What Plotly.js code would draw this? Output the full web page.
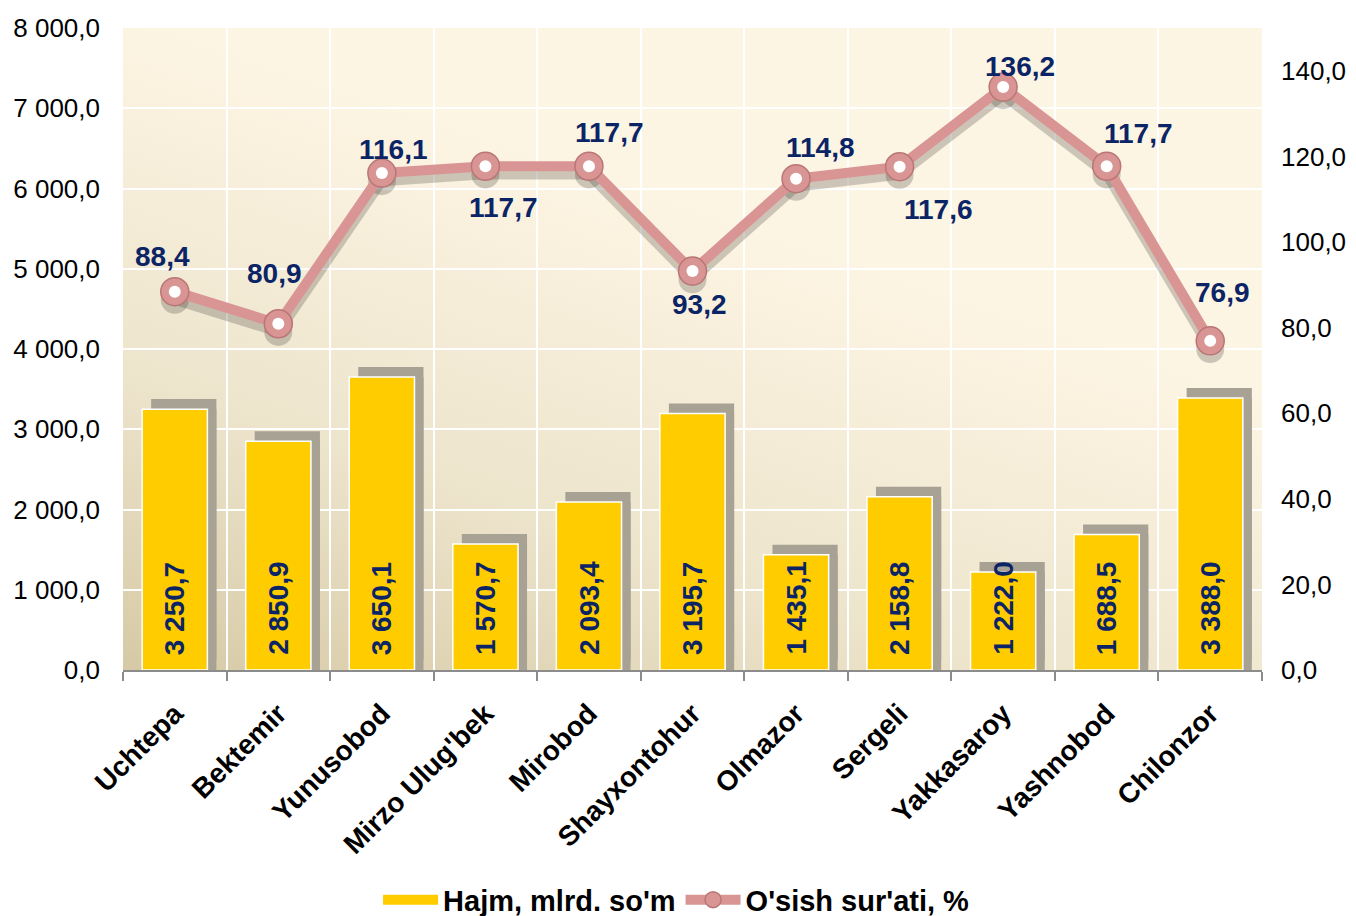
<!DOCTYPE html>
<html>
<head>
<meta charset="utf-8">
<script src="https://cdn.plot.ly/plotly-3.0.1.min.js"></script>
<style>html,body{margin:0;padding:0;background:#fff;}#chart{width:1356px;height:916px;}</style>
</head>
<body>
<div id="chart"></div>
<script>
// ---- data ----
var districts = ["Uchtepa", "Bektemir", "Yunusobod", "Mirzo Ulug'bek", "Mirobod", "Shayxontohur", "Olmazor", "Sergeli", "Yakkasaroy", "Yashnobod", "Chilonzor"];
var hajm = [3250.7, 2850.9, 3650.1, 1570.7, 2093.4, 3195.7, 1435.1, 2158.8, 1222.0, 1688.5, 3388.0];
var osish = [88.4, 80.9, 116.1, 117.7, 117.7, 93.2, 114.8, 117.6, 136.2, 117.7, 76.9];
var seriesNames = ["Hajm, mlrd. so'm", "O'sish sur'ati, %"];

// ---- styling (label offsets in px) ----
var lineLabelOffset = [[-12,-35],[-4,-50],[12,-24],[18,41],[21,-34],[7,33],[24,-31],[39,43],[17,-21],[32,-33],[12,-48]];

var FONT = "Liberation Sans, Arial, sans-serif";
var NAVY = "#0B2466";

function fmt(v) {
  var s = v.toFixed(1).split(".");
  var intPart = s[0].replace(/\B(?=(\d{3})+(?!\d))/g, " ");
  return intPart + "," + s[1];
}

var bgSvg = "<svg xmlns='http://www.w3.org/2000/svg' width='100' height='100' viewBox='0 0 100 100' preserveAspectRatio='none'>" +
  "<defs><linearGradient id='g' x1='0' y1='1' x2='0.45' y2='0.25'>" +
  "<stop offset='0' stop-color='#D6C9A5'/><stop offset='0.45' stop-color='#EDE4CC'/><stop offset='1' stop-color='#FDF5E3'/>" +
  "</linearGradient></defs><rect width='100' height='100' fill='url(#g)'/></svg>";
var bgUri = "data:image/svg+xml;charset=utf-8," + encodeURIComponent(bgSvg);

var barWidth = 0.63;
var pxPerCat = 1139 / districts.length;
var shadowDx = 9 / pxPerCat;
var SHADOW_COLOR = "#A8A294";
var nulls = districts.map(function(){ return null; });

var traces = [
  { // bar shadow, upper part (shifted up on hidden axis)
    type: "bar", x: districts, y: hajm, xaxis: "x", yaxis: "y",
    width: barWidth, offset: -barWidth/2 + shadowDx,
    marker: {color: SHADOW_COLOR}, showlegend: false, hoverinfo: "skip"
  },
  { // bar shadow, lower part down to the axis
    type: "bar", x: districts, y: hajm, base: -125, xaxis: "x", yaxis: "y",
    width: barWidth, offset: -barWidth/2 + shadowDx,
    marker: {color: SHADOW_COLOR}, showlegend: false, hoverinfo: "skip"
  },
  { // bars
    type: "bar", x: districts, y: hajm, name: seriesNames[0], xaxis: "x", yaxis: "y2",
    width: barWidth, showlegend: false,
    marker: {color: "#FFCC00", line: {color: "#FFFFFF", width: 1.5}},
    hoverinfo: "x+y"
  },
  { // line shadow
    type: "scatter", mode: "lines+markers", x: districts, y: osish, xaxis: "x", yaxis: "y3",
    line: {color: "rgba(60,55,50,0.25)", width: 10},
    marker: {size: 28, color: "rgba(60,55,50,0.25)"},
    showlegend: false, hoverinfo: "skip"
  },
  { // legend proxy for bars
    type: "scatter", mode: "lines", x: districts, y: nulls, name: seriesNames[0], xaxis: "x", yaxis: "y2",
    line: {color: "#FFCC00", width: 12}, hoverinfo: "skip"
  },
  { // line
    type: "scatter", mode: "lines+markers", x: districts, y: osish, name: seriesNames[1], xaxis: "x", yaxis: "y4",
    line: {color: "#D99594", width: 10},
    marker: {size: 28, color: "#D99594", line: {color: "#B97674", width: 1.5}},
    hoverinfo: "x+y"
  },
  { // white marker centres
    type: "scatter", mode: "markers", x: districts, y: osish, xaxis: "x", yaxis: "y4",
    marker: {size: 12, color: "#FFFFFF"}, showlegend: false, hoverinfo: "skip"
  }
];

var annotations = [];
for (var i = 0; i < districts.length; i++) {
  annotations.push({
    x: districts[i], y: 0, xref: "x", yref: "y2",
    text: "<b>" + fmt(hajm[i]) + "</b>", textangle: -90, showarrow: false,
    xanchor: "center", yanchor: "bottom", yshift: 13,
    font: {family: FONT, size: 28, color: NAVY}
  });
  annotations.push({
    x: districts[i], y: osish[i], xref: "x", yref: "y4",
    text: "<b>" + fmt(osish[i]) + "</b>", showarrow: false,
    xanchor: "center", yanchor: "middle",
    xshift: lineLabelOffset[i][0], yshift: -lineLabelOffset[i][1],
    font: {family: FONT, size: 28, color: NAVY}
  });
}

var ticks2 = [0,1000,2000,3000,4000,5000,6000,7000,8000];
var ticks4 = [0,20,40,60,80,100,120,140];

var layout = {
  width: 1356, height: 916,
  margin: {l: 123, r: 94, t: 28, b: 246, autoexpand: false},
  paper_bgcolor: "#FFFFFF",
  plot_bgcolor: "rgba(0,0,0,0)",
  font: {family: FONT, size: 26, color: "#000000"},
  separators: ", ",
  barmode: "overlay",
  showlegend: true,
  legend: {
    orientation: "h", x: 0.486, xanchor: "center", y: -0.358, yanchor: "middle",
    font: {family: FONT, size: 29, color: "#000000", weight: "bold"},
    itemwidth: 55, bgcolor: "rgba(0,0,0,0)", traceorder: "normal"
  },
  images: [{
    source: bgUri, xref: "paper", yref: "paper", x: 0, y: 1, sizex: 1, sizey: 1,
    xanchor: "left", yanchor: "top", sizing: "stretch", layer: "below"
  }],
  xaxis: {
    type: "category", tickson: "boundaries", ticks: "outside", ticklen: 9, tickwidth: 2, tickcolor: "#8C8C8C",
    showline: true, linecolor: "#8C8C8C", linewidth: 2,
    showgrid: true, gridcolor: "#FFFFFF", gridwidth: 2,
    tickangle: -45, ticklabelstandoff: 14,
    tickfont: {family: FONT, size: 28, color: "#000000", weight: "bold"},
    range: [-0.5, 10.5], fixedrange: true, automargin: false
  },
  yaxis: { // shadow axis (hidden)
    range: [-125, 7875], visible: false, fixedrange: true
  },
  yaxis2: {
    overlaying: "y", side: "left", range: [0, 8000], tickvals: ticks2, tickformat: ",.1f",
    showgrid: true, gridcolor: "#FFFFFF", gridwidth: 2, zeroline: false, showline: false,
    ticks: "", ticklabelstandoff: 22, automargin: false,
    tickfont: {family: FONT, size: 26, color: "#000000"}, fixedrange: true
  },
  yaxis3: { // line shadow axis (hidden)
    overlaying: "y", side: "right", range: [1.9, 151.9], visible: false, fixedrange: true
  },
  yaxis4: {
    overlaying: "y", side: "right", range: [0, 150], tickvals: ticks4, tickformat: ".1f",
    showgrid: false, zeroline: false, showline: false, ticks: "", ticklabelstandoff: 18, automargin: false,
    tickfont: {family: FONT, size: 26, color: "#000000"}, fixedrange: true
  },
  annotations: annotations
};

Plotly.newPlot("chart", traces, layout, {displayModeBar: false});
</script>
</body>
</html>
